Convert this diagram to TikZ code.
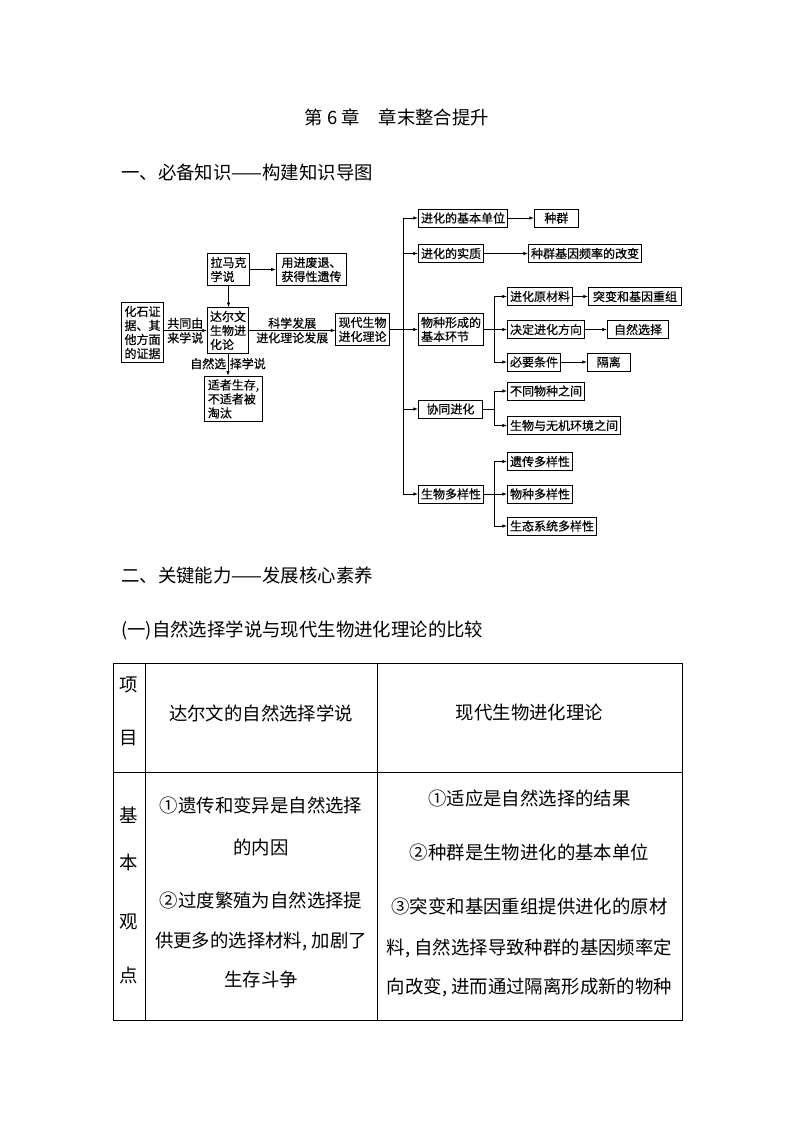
\documentclass[tikz,border=0pt]{standalone}
\usepackage{fontspec}
\setmainfont{Noto Sans CJK SC}
\newfontfamily\mapcjk[FakeBold=0.5]{Noto Sans CJK SC}
\usetikzlibrary{positioning, arrows.meta}
\newcommand{\boxfont}{\mapcjk\fontsize{9}{10.5}\selectfont}
\newcommand{\pagefont}{\fontsize{13.8}{16}\selectfont}

\begin{document}
\begin{tikzpicture}[x=0.75pt, y=-0.75pt,
    box/.style={draw, line width=0.6pt, font=\boxfont, inner xsep=2pt, inner ysep=2.5pt,
      minimum height=13.5pt, align=left},
    lvl/.style={box, anchor=west, minimum width=48pt},
    leaf/.style={box, anchor=west},
    arr/.style={-{Latex[length=3.5pt,width=2.6pt]}, line width=0.6pt},
    lnk/.style={line width=0.6pt},
    lab/.style={font=\boxfont, inner sep=1pt},
    txt/.style={font=\pagefont, inner sep=0pt},
    grid/.style={line width=0.75pt}]
  \useasboundingbox (0,0) rectangle (794,1123);

  % headings
  \node[txt] (title) at (397,117) {第 6 章　章末整合提升};
  \node[txt, anchor=west] (part1) at (121,172) {一、必备知识——构建知识导图};
  \node[txt, anchor=west] (part2) at (121,575) {二、关键能力——发展核心素养};
  \node[txt, anchor=west] (part3) at (121,630) {(一)自然选择学说与现代生物进化理论的比较};

  % left part of the map
  \node[box] (fossil) at (142.5,332.5) {化石证\\据、其\\他方面\\的证据};
  \node[box] (lamarck) at (228.5,269.5) {拉马克\\学说};
  \node[box, minimum width=53pt] (useuse) at (311.5,269.5) {用进废退、\\获得性遗传};
  \node[box] (darwin) at (228,330.5) {达尔文\\生物进\\化论};
  \node[box] (modern) at (362.5,329.5) {现代生物\\进化理论};
  \node[box, minimum width=44pt] (fittest) at (233.5,399) {适者生存,\\不适者被\\淘汰};

  \draw[arr] (fossil.east |- darwin.west) -- node[lab, above] {共同由} node[lab, below] {来学说} (darwin.west);
  \draw[arr] (lamarck.east) -- (useuse.west);
  \draw[arr] (lamarck.south) -- (lamarck.south |- darwin.north);
  \draw[arr] (darwin.east) -- node[lab, above] {科学发展} node[lab, below] {进化理论发展} (darwin.east -| modern.west);
  \draw[arr] (darwin.south) -- node[lab, left, pos=0.45] {自然选} node[lab, right, pos=0.45] {择学说} (darwin.south |- fittest.north);

  % right part of the map
  \node[lvl] (unit) at (418,218) {进化的基本单位};
  \node[lvl] (essence) at (418,253.5) {进化的实质};
  \node[lvl] (spec) at (418,329.5) {物种形成的\\基本环节};
  \node[lvl] (coevo) at (418,409) {协同进化};
  \node[lvl] (diversity) at (418,494) {生物多样性};

  \node[leaf, minimum width=33pt, align=center] (pop) at (534,218) {种群};
  \node[leaf] (freq) at (528,253.5) {种群基因频率的改变};
  \node[leaf] (raw) at (507,296.5) {进化原材料};
  \node[leaf, minimum width=70pt, align=center] (mut) at (588,296.5) {突变和基因重组};
  \node[leaf] (dir) at (507,329.5) {决定进化方向};
  \node[leaf, minimum width=46pt, align=center] (nat) at (607,329.5) {自然选择};
  \node[leaf] (cond) at (507,362) {必要条件};
  \node[leaf, minimum width=32pt, align=center] (iso) at (587,362) {隔离};
  \node[leaf] (diff) at (507,391) {不同物种之间};
  \node[leaf] (env) at (507,425.5) {生物与无机环境之间};
  \node[leaf] (gen) at (507,461.5) {遗传多样性};
  \node[leaf] (sp) at (507,494) {物种多样性};
  \node[leaf] (eco) at (507,526) {生态系统多样性};

  \coordinate (trunk) at (403,0);
  \coordinate (fork) at (494,0);

  \draw[lnk] (modern.east) -- (modern.east -| trunk);
  \draw[lnk] (trunk |- unit.west) -- (trunk |- diversity.west);
  \draw[arr] (trunk |- unit.west) -- (unit.west);
  \draw[arr] (trunk |- essence.west) -- (essence.west);
  \draw[arr] (trunk |- spec.west) -- (spec.west);
  \draw[arr] (trunk |- coevo.west) -- (coevo.west);
  \draw[arr] (trunk |- diversity.west) -- (diversity.west);

  \draw[arr] (unit.east) -- (pop.west);
  \draw[arr] (essence.east) -- (freq.west);
  \draw[arr] (raw.east) -- (mut.west);
  \draw[arr] (dir.east) -- (nat.west);
  \draw[arr] (cond.east) -- (iso.west);

  \draw[lnk] (spec.east) -- (spec.east -| fork);
  \draw[lnk] (fork |- raw.west) -- (fork |- cond.west);
  \draw[arr] (fork |- raw.west) -- (raw.west);
  \draw[arr] (fork |- dir.west) -- (dir.west);
  \draw[arr] (fork |- cond.west) -- (cond.west);

  \draw[lnk] (coevo.east) -- (coevo.east -| fork);
  \draw[lnk] (fork |- diff.west) -- (fork |- env.west);
  \draw[arr] (fork |- diff.west) -- (diff.west);
  \draw[arr] (fork |- env.west) -- (env.west);

  \draw[lnk] (diversity.east) -- (diversity.east -| fork);
  \draw[lnk] (fork |- gen.west) -- (fork |- eco.west);
  \draw[arr] (fork |- gen.west) -- (gen.west);
  \draw[arr] (fork |- sp.west) -- (sp.west);
  \draw[arr] (fork |- eco.west) -- (eco.west);

  % comparison table
  \draw[grid] (113,663) rectangle (682,1020);
  \draw[grid] (145,663) -- (145,1020);
  \draw[grid] (377,663) -- (377,1020);
  \draw[grid] (113,772) -- (682,772);

  \node[txt] (itemA) at (129,685) {项};
  \node[txt] (itemB) at (129,738) {目};
  \node[txt] (headL) at (261,713) {达尔文的自然选择学说};
  \node[txt] (headR) at (529.5,713) {现代生物进化理论};

  \node[txt] (viewA) at (129,815) {基};
  \node[txt] (viewB) at (129,863) {本};
  \node[txt] (viewC) at (129,922) {观};
  \node[txt] (viewD) at (129,975) {点};

  \node[txt] (darwinA) at (261,805) {①遗传和变异是自然选择};
  \node[txt] (darwinB) at (261,847) {的内因};
  \node[txt] (darwinC) at (261,900) {②过度繁殖为自然选择提};
  \node[txt] (darwinD) at (261,941) {供更多的选择材料, 加剧了};
  \node[txt] (darwinE) at (261,979) {生存斗争};

  \node[txt] (modernA) at (529.5,798) {①适应是自然选择的结果};
  \node[txt] (modernB) at (529.5,852) {②种群是生物进化的基本单位};
  \node[txt] (modernC) at (529.5,906) {③突变和基因重组提供进化的原材};
  \node[txt] (modernD) at (529.5,948) {料, 自然选择导致种群的基因频率定};
  \node[txt] (modernE) at (529.5,987) {向改变, 进而通过隔离形成新的物种};
\end{tikzpicture}
\end{document}
